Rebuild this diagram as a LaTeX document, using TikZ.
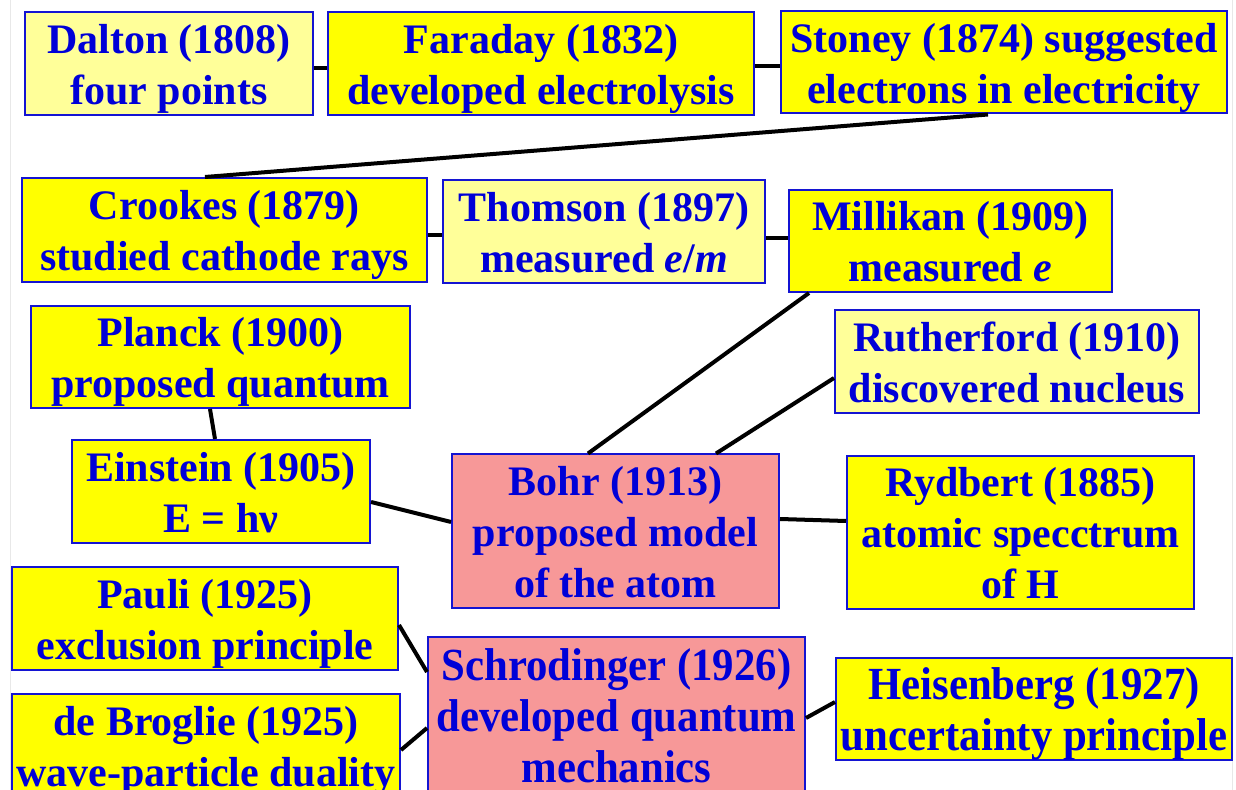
\documentclass[tikz,border=0pt]{standalone}
\usepackage{fontspec}
\setmainfont{Liberation Serif}
\newfontfamily\condfont[FakeStretch=0.93]{Liberation Serif}
\newcommand\bt[1]{\raisebox{-2.65pt}[\height][\depth]{\begin{tabular}{@{}c@{}}#1\end{tabular}}}
\begin{document}
\begin{tikzpicture}[x=0.5pt,y=-0.5pt]
\definecolor{ylw}{RGB}{255,255,0}
\definecolor{lylw}{RGB}{255,255,153}
\definecolor{pnk}{RGB}{247,152,152}
\definecolor{txtblue}{RGB}{0,0,215}
\definecolor{brdblue}{RGB}{20,20,210}
\definecolor{edgegray}{RGB}{232,232,232}
\tikzset{
  box/.style={draw=brdblue, line width=1pt, fill=ylw, text=txtblue, inner sep=0pt,
    font=\fontsize{21}{25.5}\selectfont\bfseries},
  lightbox/.style={box, fill=lylw},
  pinkbox/.style={box, fill=pnk},
  condtext/.style={font=\condfont\fontsize{23}{25.5}\selectfont\bfseries},
  link/.style={draw=black, line width=2pt}
}
\path[use as bounding box] (0,0) rectangle (1236,790);
\clip (0,0) rectangle (1236,790);
\fill[white] (0,0) rectangle (1236,790);
\draw[edgegray, line width=0.5pt] (10.5,0) -- (10.5,790);
\draw[edgegray, line width=0.5pt] (1232.5,0) -- (1232.5,790);
% nodes
\node[lightbox, minimum width=144pt, minimum height=51.5pt] (dalton) at (169,63.5) {\bt{Dalton (1808)\\four points}};
\node[box, minimum width=213pt, minimum height=51.5pt] (faraday) at (541,63.5) {\bt{Faraday (1832)\\developed electrolysis}};
\node[box, minimum width=223pt, minimum height=51pt] (stoney) at (1004,62.5) {\bt{Stoney (1874) suggested\\electrons in electricity}};
\node[box, minimum width=202.5pt, minimum height=52pt] (crookes) at (224.5,230) {\bt{Crookes (1879)\\studied cathode rays}};
\node[lightbox, minimum width=161pt, minimum height=51.5pt] (thomson) at (604,231.5) {\bt{Thomson (1897)\\measured \textit{e}/\textit{m}}};
\node[box, minimum width=161.5pt, minimum height=51pt] (millikan) at (950.5,241) {\bt{Millikan (1909)\\measured \textit{e}}};
\node[box, minimum width=189.5pt, minimum height=51pt] (planck) at (220.5,357) {\bt{Planck (1900)\\proposed quantum}};
\node[lightbox, minimum width=182pt, minimum height=51.5pt] (rutherford) at (1017,361.5) {\bt{Rutherford (1910)\\discovered nucleus}};
\node[box, minimum width=149pt, minimum height=51.5pt] (einstein) at (221,491.5) {\bt{Einstein (1905)\\E = hν}};
\node[pinkbox, minimum width=163.5pt, minimum height=76.5pt] (bohr) at (615.5,531) {\bt{Bohr (1913)\\proposed model\\of the atom}};
\node[box, minimum width=173.5pt, minimum height=76pt] (rydbert) at (1020.5,532.5) {\bt{Rydbert (1885)\\atomic specctrum\\of H}};
\node[box, minimum width=193pt, minimum height=51.5pt] (pauli) at (205,618.5) {\bt{Pauli (1925)\\exclusion principle}};
\node[pinkbox, condtext, minimum width=188.5pt, minimum height=79pt] (schrod) at (616.5,716) {\bt{Schrodinger (1926)\\developed quantum\\mechanics}};
\node[box, minimum width=194pt, minimum height=51pt] (debroglie) at (206,745) {\bt{de Broglie (1925)\\wave-particle duality}};
\node[box, condtext, minimum width=198pt, minimum height=51pt] (heis) at (1034,709) {\bt{Heisenberg (1927)\\uncertainty principle}};
% connectors
\draw[link] ([yshift=-2.25pt]dalton.east) -- ([yshift=-2.25pt]faraday.west);
\draw[link] ([yshift=-1.25pt]faraday.east) -- ([yshift=-1.75pt]stoney.west);
\draw[link] ([xshift=-8pt]stoney.south) -- ([xshift=-9.75pt]crookes.north);
\draw[link] ([yshift=-2.5pt]crookes.east) -- ([yshift=-1.75pt]thomson.west);
\draw[link] ([yshift=-3.25pt]thomson.east) -- ([yshift=1.5pt]millikan.west);
\draw[link] ([xshift=-5.25pt]planck.south) -- ([xshift=-3pt]einstein.north);
\draw[link] ([xshift=10.5pt]millikan.south west) -- ([xshift=-13.75pt]bohr.north);
\draw[link] ([yshift=-8.25pt]rutherford.west) -- ([xshift=50.25pt]bohr.north);
\draw[link] ([yshift=-5.25pt]einstein.east) -- ([yshift=4.5pt]bohr.west);
\draw[link] ([yshift=6pt]bohr.east) -- ([yshift=5.75pt]rydbert.west);
\draw[link] ([yshift=-3.25pt]pauli.east) -- ([yshift=22pt]schrod.west);
\draw[link] ([yshift=-2.5pt]debroglie.east) -- ([yshift=-6pt]schrod.west);
\draw[link] ([yshift=-1pt]schrod.east) -- ([yshift=3.5pt]heis.west);
\end{tikzpicture}
\end{document}
